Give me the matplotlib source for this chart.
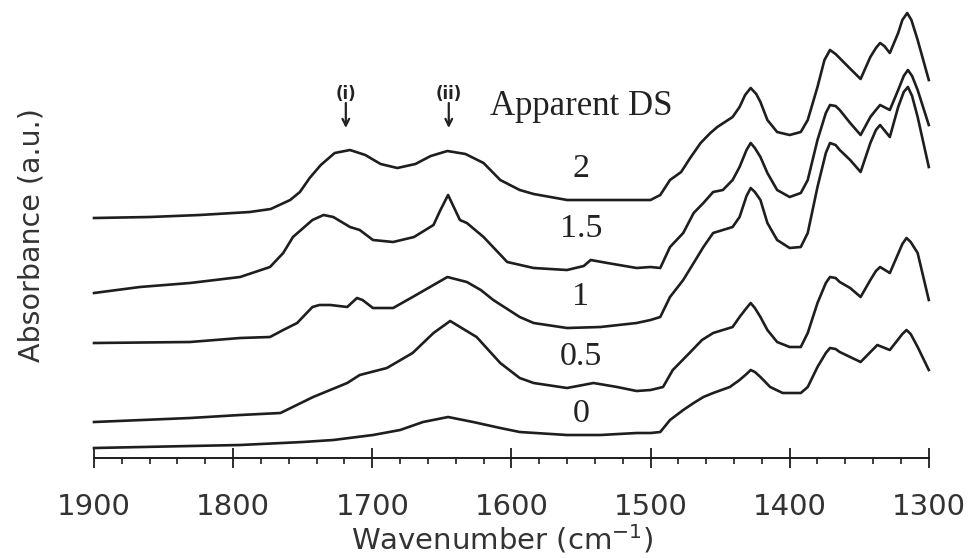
import numpy as np
import matplotlib.pyplot as plt
from matplotlib.ticker import MultipleLocator

# traced spectra (wavenumber in cm-1, absorbance in a.u., offset stacked)
wn_ds2 = [1900, 1860, 1824, 1788, 1773, 1759, 1752, 1745, 1737, 1727, 1716, 1705, 1694, 1682,
          1669, 1658, 1646, 1633, 1620, 1608, 1594, 1584, 1560, 1529, 1510, 1500, 1493, 1486,
          1478, 1471.5, 1464, 1457, 1452, 1441, 1436, 1432, 1428, 1424, 1421, 1416, 1409, 1400,
          1392, 1387, 1380, 1375, 1371, 1367, 1357, 1349, 1342, 1338, 1335, 1332, 1328, 1322,
          1319, 1315.5, 1312.5, 1308, 1300]
ab_ds2 = [2.40, 2.41, 2.43, 2.46, 2.49, 2.58, 2.66, 2.80, 2.93, 3.05, 3.08, 3.03, 2.94, 2.90,
          2.94, 3.02, 3.07, 3.04, 2.95, 2.78, 2.68, 2.64, 2.58, 2.58, 2.58, 2.58, 2.63, 2.78,
          2.86, 3.00, 3.15, 3.25, 3.31, 3.41, 3.51, 3.63, 3.70, 3.64, 3.56, 3.38, 3.26, 3.23,
          3.26, 3.38, 3.71, 3.98, 4.08, 4.04, 3.90, 3.79, 4.01, 4.10, 4.15, 4.12, 4.05, 4.25,
          4.38, 4.45, 4.38, 4.18, 3.78]

wn_ds15 = [1900, 1867, 1831, 1795, 1773.5, 1764, 1757, 1743, 1735, 1728, 1716, 1709, 1699.5,
           1685, 1670, 1656, 1651, 1645.5, 1637, 1632, 1620, 1603, 1584, 1560, 1548, 1543, 1531,
           1510, 1500, 1493, 1486, 1476.5, 1469, 1462, 1455, 1448, 1441, 1436, 1431, 1428, 1425,
           1421, 1416, 1409, 1400, 1392, 1387, 1380, 1374, 1371, 1367, 1364, 1356.5, 1349, 1342,
           1338, 1335, 1328, 1322, 1318, 1315, 1312, 1308, 1300]
ab_ds15 = [1.65, 1.71, 1.75, 1.81, 1.91, 2.05, 2.21, 2.38, 2.43, 2.41, 2.31, 2.28, 2.18,
           2.16, 2.21, 2.33, 2.48, 2.63, 2.38, 2.35, 2.21, 1.96, 1.90, 1.88, 1.92, 1.98, 1.95,
           1.90, 1.91, 1.90, 2.11, 2.25, 2.45, 2.55, 2.66, 2.68, 2.78, 2.91, 3.08, 3.15, 3.10,
           3.01, 2.85, 2.68, 2.61, 2.65, 2.78, 3.18, 3.45, 3.53, 3.52, 3.48, 3.35, 3.23, 3.41,
           3.48, 3.53, 3.48, 3.68, 3.82, 3.88, 3.82, 3.68, 3.33]

wn_ds1 = [1900, 1831, 1795, 1773.5, 1764, 1754, 1743, 1738, 1730, 1718, 1711, 1707, 1699.5,
          1685, 1671, 1646, 1632, 1622, 1613, 1594, 1584, 1560, 1536, 1510, 1500, 1493, 1486,
          1476.5, 1469, 1462, 1455, 1441, 1436, 1431, 1428, 1425, 1421, 1416, 1409, 1400, 1392,
          1387, 1380, 1374, 1371, 1367, 1364, 1356.5, 1349, 1342, 1338, 1335, 1328, 1322, 1318,
          1315, 1312, 1308, 1300]
ab_ds1 = [1.15, 1.16, 1.20, 1.21, 1.28, 1.35, 1.51, 1.53, 1.53, 1.51, 1.60, 1.58, 1.50,
          1.50, 1.61, 1.81, 1.76, 1.68, 1.58, 1.41, 1.35, 1.30, 1.31, 1.35, 1.38, 1.41, 1.61,
          1.78, 1.95, 2.11, 2.25, 2.31, 2.41, 2.62, 2.70, 2.66, 2.58, 2.35, 2.18, 2.10, 2.11,
          2.25, 2.71, 3.05, 3.15, 3.13, 3.08, 2.98, 2.86, 3.15, 3.28, 3.33, 3.21, 3.51, 3.66,
          3.71, 3.62, 3.41, 2.91]

wn_ds05 = [1900, 1831, 1795, 1766, 1742.5, 1718, 1709, 1689.5, 1671, 1656, 1644, 1625, 1608,
           1594, 1584, 1560, 1541, 1524, 1510, 1500, 1491, 1484, 1472, 1463, 1455, 1441, 1436,
           1431, 1428, 1425, 1421, 1416, 1409, 1400, 1392, 1387, 1380, 1374, 1371, 1367, 1364,
           1356.5, 1349, 1342, 1338, 1335, 1328, 1319, 1316, 1313, 1308, 1300]
ab_ds05 = [0.36, 0.40, 0.43, 0.45, 0.61, 0.75, 0.83, 0.90, 1.05, 1.25, 1.37, 1.21, 0.95,
           0.80, 0.75, 0.70, 0.75, 0.71, 0.67, 0.68, 0.71, 0.88, 1.05, 1.18, 1.25, 1.31, 1.41,
           1.50, 1.55, 1.50, 1.41, 1.28, 1.16, 1.11, 1.11, 1.25, 1.55, 1.75, 1.81, 1.80, 1.76,
           1.70, 1.61, 1.78, 1.87, 1.91, 1.85, 2.14, 2.20, 2.16, 2.05, 1.58]

wn_ds0 = [1900, 1831, 1795, 1750, 1728, 1699.5, 1680, 1663.5, 1645.5, 1627.5, 1608, 1594,
          1560, 1536, 1510, 1500, 1493, 1486, 1476.5, 1469, 1462, 1455, 1443, 1436, 1431, 1428,
          1425, 1421, 1414, 1405, 1392, 1387, 1380, 1374, 1371, 1367, 1364, 1349, 1337, 1328,
          1319, 1316, 1313, 1308, 1300]
ab_ds0 = [0.10, 0.12, 0.13, 0.16, 0.18, 0.23, 0.28, 0.36, 0.41, 0.36, 0.30, 0.26,
          0.23, 0.23, 0.25, 0.25, 0.26, 0.38, 0.48, 0.55, 0.61, 0.65, 0.71, 0.78, 0.84, 0.88,
          0.86, 0.81, 0.71, 0.65, 0.65, 0.71, 0.91, 1.05, 1.10, 1.09, 1.06, 0.96, 1.13, 1.08,
          1.24, 1.28, 1.24, 1.11, 0.88]

ds_labels = ['2', '1.5', '1', '0.5', '0']
ds_label_y = [2.81, 2.21, 1.53, 0.93, 0.36]
band_names = ['(i)', '(ii)']
band_pos = [1719, 1645]

fig = plt.figure(figsize=(9.69, 5.58), dpi=100)
ax = fig.add_axes([0.097, 0.1792, 0.8615, 0.8208])

lc = '#1e1e1e'
for wn, ab in [(wn_ds2, ab_ds2), (wn_ds15, ab_ds15), (wn_ds1, ab_ds1),
               (wn_ds05, ab_ds05), (wn_ds0, ab_ds0)]:
    ax.plot(wn, ab, color=lc, lw=1.9, solid_joinstyle='round', clip_on=False)

ax.set_xlim(1900, 1300)
ax.set_ylim(0, 4.58)

for s in ['top', 'right', 'left']:
    ax.spines[s].set_visible(False)
ax.spines['bottom'].set_linewidth(1.4)
ax.spines['bottom'].set_color(lc)

ax.xaxis.set_major_locator(MultipleLocator(100))
ax.xaxis.set_minor_locator(MultipleLocator(20))
ax.tick_params(axis='x', which='major', direction='inout', length=15, width=1.3,
               labelsize=21, pad=18, colors=lc, labelcolor='#333333')
ax.tick_params(axis='x', which='minor', direction='out', length=4.5, width=1.2, colors=lc)
ax.set_yticks([])

ax.set_xlabel('Wavenumber (cm$^{-1}$)', fontsize=21, color='#333333')
ax.xaxis.set_label_coords(0.4895, -0.14)
ax.set_ylabel('Absorbance (a.u.)', fontsize=20.5, color='#333333')
ax.yaxis.set_label_coords(-0.0586, 0.487)

serif = 'Liberation Serif'
ax.text(1550, 3.43, 'Apparent DS', family=serif, fontsize=25, ha='center', va='baseline',
        color='#222222')
for lab, y in zip(ds_labels, ds_label_y):
    ax.text(1550, y, lab, family=serif, fontsize=24.5, ha='center', va='baseline',
            color='#222222')

for name, w in zip(band_names, band_pos):
    ax.text(w, 3.64, name, fontsize=12, fontweight='bold', ha='center', va='center',
            color='#222222')
    ax.annotate('', xy=(w, 3.30), xytext=(w, 3.55),
                arrowprops=dict(arrowstyle='->', lw=1.6, color='#222222',
                                mutation_scale=12, shrinkA=0, shrinkB=0))

fig.savefig('out.png', dpi=100)
